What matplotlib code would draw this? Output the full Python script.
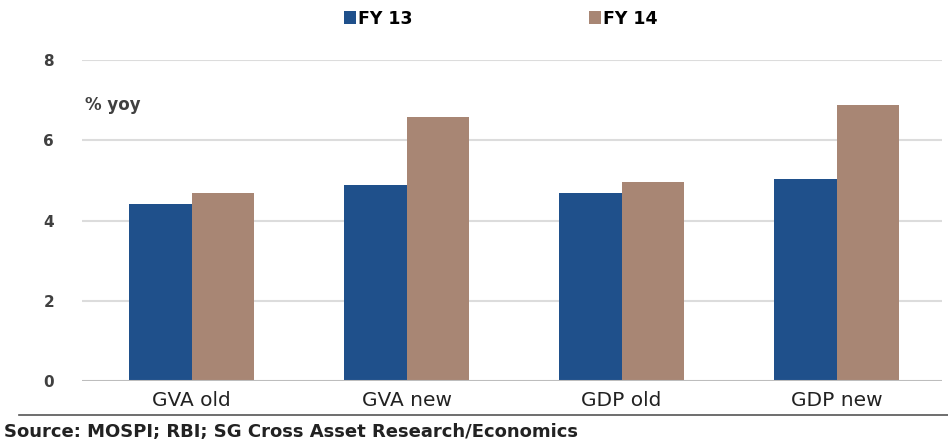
import numpy as np
import matplotlib.pyplot as plt

plt.rcParams['font.family'] = ['DejaVu Sans']

# Data
categories = ['GVA old', 'GVA new', 'GDP old', 'GDP new']
fy13 = [4.42, 4.89, 4.68, 5.03]
fy14 = [4.68, 6.59, 4.95, 6.88]
series_names = ['FY 13', 'FY 14']
yticks = [0, 2, 4, 6, 8]

blue = '#1f508b'
brown = '#a88674'

fig = plt.figure(figsize=(9.48, 4.42), dpi=100)
ax = fig.add_axes([0.0865, 0.138, 0.907, 0.726])

x = np.arange(len(categories))
w = 0.29
b1 = ax.bar(x - w / 2, fy13, w, color=blue, label=series_names[0], zorder=3)
b2 = ax.bar(x + w / 2, fy14, w, color=brown, label=series_names[1], zorder=3)

ax.set_xlim(-0.51, 3.49)
ax.set_ylim(0, 8)
ax.set_yticks(yticks)
ax.set_yticklabels([str(t) for t in yticks], fontsize=11, fontweight='bold', color='#404040')
ax.set_xticks(x)
ax.set_xticklabels(categories, fontsize=14.5, color='#222222')
ax.tick_params(axis='both', length=0)
ax.tick_params(axis='y', pad=20)
ax.tick_params(axis='x', pad=7)

for t in yticks[1:]:
    ax.axhline(t, color='#dcdcdc', lw=1.5, zorder=1)
ax.axhline(0, color='#bdbdbd', lw=1.5, zorder=4)
for s in ax.spines.values():
    s.set_visible(False)

ax.text(0.003, 0.86, '% yoy', transform=ax.transAxes, fontsize=12,
        fontweight='bold', color='#404040', va='center')

fig.legend(handles=[b1, b2], loc='center left', bbox_to_anchor=(0.346, 0.958),
           ncol=2, frameon=False, columnspacing=10.2,
           handlelength=0.7, handleheight=0.7, handletextpad=0.1,
           prop={'weight': 'bold', 'size': 12.5})

fig.add_artist(plt.Line2D([0.02, 1.0], [0.06, 0.06], color='#555555', lw=1.2))
fig.text(0.004, 0.012, 'Source: MOSPI; RBI; SG Cross Asset Research/Economics',
         fontsize=13, fontweight='bold', color='#222222')

fig.savefig('out.png', dpi=100)
